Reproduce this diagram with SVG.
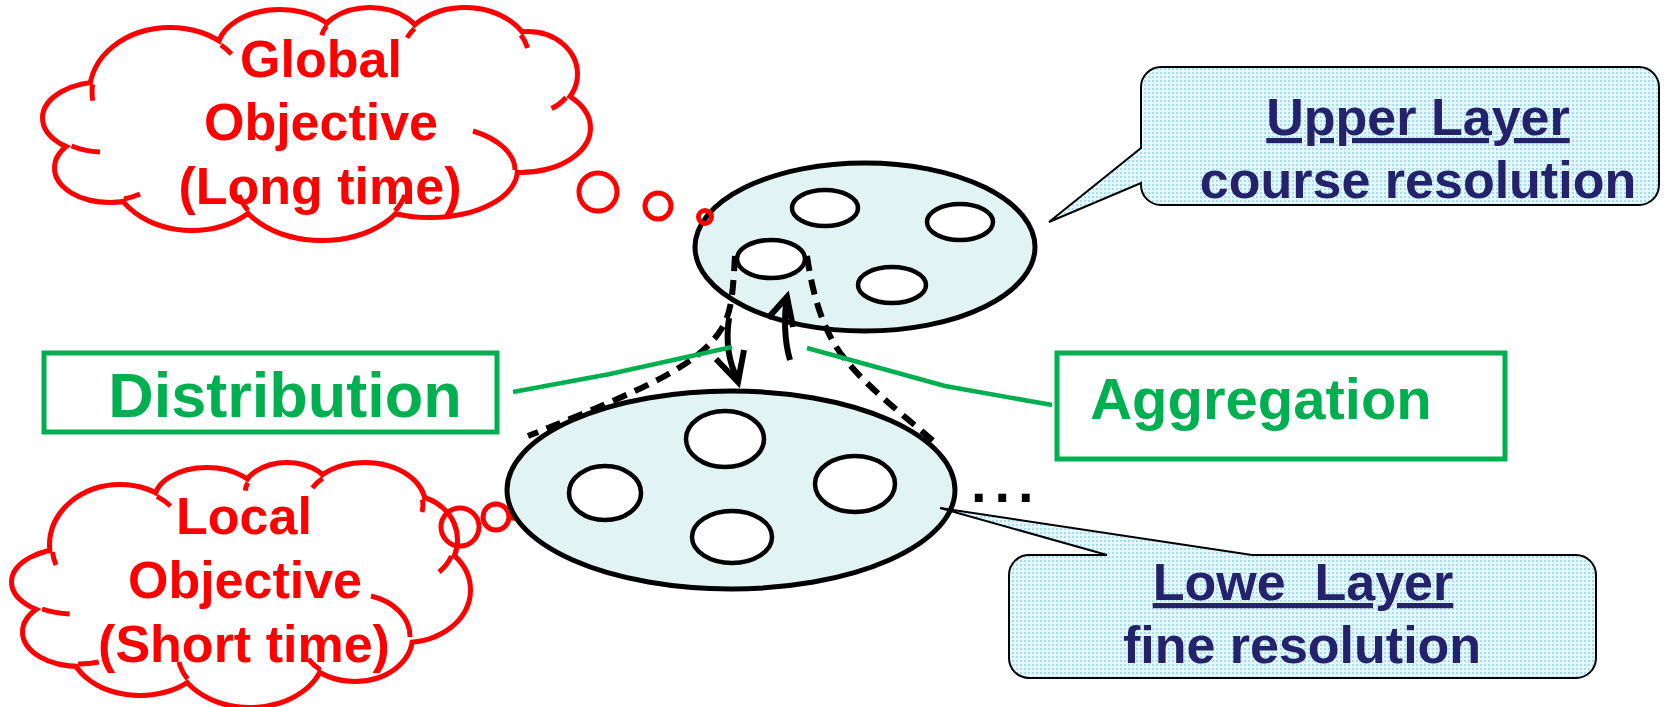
<svg xmlns="http://www.w3.org/2000/svg" width="1664" height="707" viewBox="0 0 1664 707">
  <style>
    .cloudtxt { font-family: "Liberation Sans", Arial, sans-serif; font-weight: bold; font-size: 52px; fill: #ff0000; text-anchor: middle; }
    .labeltxt { font-family: "Liberation Sans", Arial, sans-serif; font-weight: bold; fill: #00b050; text-anchor: middle; }
    .notetxt { font-family: "Liberation Sans", Arial, sans-serif; font-weight: bold; font-size: 52px; fill: #23226a; text-anchor: middle; }
    .edge { fill: none; stroke: #ff0000; stroke-width: 10; }
    .lobefill { fill: #ffffff; stroke: none; }
    .tick { fill: none; stroke: #ff0000; stroke-width: 5; }
    .bubble { fill: none; stroke: #ff0000; stroke-width: 5; }
    .layer { fill: #e2f3f4; stroke: #000000; stroke-width: 5; }
    .cell { fill: #ffffff; stroke: #000000; stroke-width: 4.5; }
    .dash { fill: none; stroke: #000000; stroke-width: 6; stroke-dasharray: 15 9; }
    .solid { fill: none; stroke: #000000; stroke-width: 6; stroke-linejoin: miter; }
    .lead { fill: none; stroke: #00b050; stroke-width: 4.5; }
    .box { fill: #ffffff; stroke: #00b050; stroke-width: 5; }
    .callout { fill: url(#dots); stroke: #000000; stroke-width: 2; }
  </style>
  <defs>
    <pattern id="dots" width="4" height="4" patternUnits="userSpaceOnUse">
      <rect width="4" height="4" fill="#e6f7fc"/>
      <rect width="2" height="2" fill="#a6dcf1"/>
    </pattern>
    <!-- lobes of the upper-left thought cloud -->
    <g id="globalLobes">
      <ellipse cx="170" cy="92" rx="78" ry="62"/>
      <ellipse cx="280" cy="50" rx="60" ry="38"/>
      <ellipse cx="370" cy="44" rx="50" ry="34"/>
      <ellipse cx="465" cy="58" rx="64" ry="48"/>
      <ellipse cx="528" cy="74" rx="47" ry="40"/>
      <ellipse cx="520" cy="128" rx="68" ry="42"/>
      <ellipse cx="430" cy="170" rx="85" ry="45"/>
      <ellipse cx="322" cy="180" rx="86" ry="58"/>
      <ellipse cx="192" cy="170" rx="78" ry="58"/>
      <ellipse cx="110" cy="168" rx="53" ry="32"/>
      <ellipse cx="105" cy="118" rx="60" ry="34"/>
    </g>
    <!-- lobes of the lower-left thought cloud -->
    <g id="localLobes">
      <ellipse cx="120" cy="545" rx="68" ry="58"/>
      <ellipse cx="207" cy="500" rx="50" ry="30"/>
      <ellipse cx="287" cy="493" rx="42" ry="28"/>
      <ellipse cx="365" cy="505" rx="58" ry="40"/>
      <ellipse cx="410" cy="540" rx="45" ry="42"/>
      <ellipse cx="405" cy="590" rx="63" ry="50"/>
      <ellipse cx="355" cy="637" rx="55" ry="42"/>
      <ellipse cx="250" cy="653" rx="72" ry="52"/>
      <ellipse cx="140" cy="645" rx="68" ry="48"/>
      <ellipse cx="80" cy="632" rx="55" ry="32"/>
      <ellipse cx="75" cy="582" rx="61" ry="32"/>
    </g>
  </defs>

  <rect width="1664" height="707" fill="#ffffff"/>

  <!-- Global objective cloud -->
  <g id="global-objective">
    <use href="#globalLobes" class="edge"/>
    <use href="#globalLobes" class="lobefill"/>
    <ellipse class="lobefill" cx="320" cy="125" rx="220" ry="80"/>
    <path class="tick" d="M92.6 84.4 A78 62 0 0 0 92.8 100.6 M71.5 146 A60 34 0 0 0 100 152 M124 199 A53 32 0 0 0 140 194 M248 210.5 A86 58 0 0 1 239 195 M395 211 A86 58 0 0 0 405 195 M473 131 A85 45 0 0 1 515 170 M566 97.5 A47 40 0 0 1 551.5 108.6 M521 35 A64 48 0 0 1 527.6 48 M414.5 28.5 A64 48 0 0 0 407 37.7 M326.5 26 A50 34 0 0 0 321.7 35.2 M221 45 A78 62 0 0 1 231.5 54"/>
    <text class="cloudtxt" x="321" y="77">Global</text>
    <text class="cloudtxt" x="321" y="140">Objective</text>
    <text class="cloudtxt" x="320" y="204">(Long time)</text>
  </g>

  <!-- Local objective cloud -->
  <g id="local-objective">
    <use href="#localLobes" class="edge"/>
    <use href="#localLobes" class="lobefill"/>
    <ellipse class="lobefill" cx="245" cy="590" rx="190" ry="78"/>
    <path class="tick" d="M52.5 552 A68 58 0 0 0 56 565 M42 609 A61 32 0 0 0 69.7 614 M78 664 A55 32 0 0 0 98.8 662 M187.6 679 A72 52 0 0 1 179 662 M320.5 670 A55 42 0 0 1 308.4 659 M371 596 A55 42 0 0 1 410 637 M451.5 556 A45 42 0 0 1 439 572 M422.4 499.4 A58 40 0 0 1 422 512 M322.6 478.2 A58 40 0 0 0 312.4 488 M247.8 482.8 A42 28 0 0 0 245.2 490.6 M157 496.4 A68 58 0 0 1 170.5 506"/>
    <text class="cloudtxt" x="244" y="534">Local</text>
    <text class="cloudtxt" x="245" y="598">Objective</text>
    <text class="cloudtxt" x="244" y="662">(Short time)</text>
  </g>

  <!-- thought bubbles leading to the lower layer -->
  <g id="local-bubbles">
    <circle class="bubble" cx="460" cy="527" r="19"/>
    <circle class="bubble" cx="496" cy="517" r="13"/>
    <circle class="bubble" cx="515" cy="512" r="6.5"/>
  </g>

  <!-- upper layer -->
  <g id="upper-layer">
    <ellipse class="layer" cx="865" cy="247" rx="170" ry="84"/>
    <ellipse class="cell" cx="825" cy="208" rx="33" ry="18"/>
    <ellipse class="cell" cx="960" cy="222" rx="33" ry="18"/>
    <ellipse class="cell" cx="771" cy="259" rx="34" ry="19"/>
    <ellipse class="cell" cx="892" cy="285" rx="34" ry="18"/>
  </g>

  <!-- lower layer -->
  <g id="lower-layer">
    <ellipse class="layer" cx="731" cy="490" rx="224" ry="99"/>
    <ellipse class="cell" cx="725" cy="439" rx="39" ry="28"/>
    <ellipse class="cell" cx="605" cy="493" rx="36" ry="27"/>
    <ellipse class="cell" cx="855" cy="484" rx="40" ry="28"/>
    <ellipse class="cell" cx="732" cy="537" rx="40" ry="26"/>
    <text x="971" y="502" font-family="Liberation Sans, Arial, sans-serif" font-weight="bold" font-size="56" letter-spacing="8" fill="#000000">...</text>
  </g>

  <!-- thought bubbles leading to the upper layer -->
  <g id="global-bubbles">
    <circle class="bubble" cx="598" cy="192" r="19"/>
    <circle class="bubble" cx="658" cy="206" r="13"/>
    <circle class="bubble" cx="705" cy="217" r="6.5"/>
  </g>

  <!-- connectors -->
  <g id="connectors">
    <path class="dash" d="M735 256 C733 285 733 310 722 328 C710 348 690 362 665 376 C630 395 580 415 528 436"/>
    <path class="dash" d="M807 256 C812 290 820 320 835 345 C855 378 900 412 938 445"/>
    <path class="solid" d="M729 318 C725 345 730 365 738 380"/>
    <path class="solid" d="M716 359 L738 382 L744 350"/>
    <path class="solid" d="M790 360 C784 340 784 315 787 298"/>
    <path class="solid" d="M768 318 L787 297 L793 327"/>
    <polyline class="lead" points="513,392 610,374 732,347"/>
    <polyline class="lead" points="807,348 945,386 1052,405"/>
  </g>

  <!-- Distribution label -->
  <g id="distribution">
    <rect class="box" x="44" y="353" width="453" height="79"/>
    <text class="labeltxt" x="285" y="417" font-size="63">Distribution</text>
  </g>

  <!-- Aggregation label -->
  <g id="aggregation">
    <rect class="box" x="1057" y="353" width="448" height="106"/>
    <text class="labeltxt" x="1261" y="419" font-size="58">Aggregation</text>
  </g>

  <!-- upper layer note -->
  <g id="upper-note">
    <path class="callout" d="M1161 67 L1639 67 A20 20 0 0 1 1659 87 L1659 185 A20 20 0 0 1 1639 205 L1161 205 A20 20 0 0 1 1141 185 L1141 183 L1049 222 L1141 148 L1141 87 A20 20 0 0 1 1161 67 Z"/>
    <text class="notetxt" x="1418" y="135" text-decoration="underline">Upper Layer</text>
    <text class="notetxt" x="1418" y="198">course resolution</text>
  </g>

  <!-- lower layer note -->
  <g id="lower-note">
    <path class="callout" d="M1029 555 L1107 555 L940 508 L1252 555 L1576 555 A20 20 0 0 1 1596 575 L1596 658 A20 20 0 0 1 1576 678 L1029 678 A20 20 0 0 1 1009 658 L1009 575 A20 20 0 0 1 1029 555 Z"/>
    <text class="notetxt" x="1303" y="600" font-size="53" text-decoration="underline" xml:space="preserve" style="white-space:pre">Lowe  Layer</text>
    <text class="notetxt" x="1302" y="663" font-size="53">fine resolution</text>
  </g>
</svg>
